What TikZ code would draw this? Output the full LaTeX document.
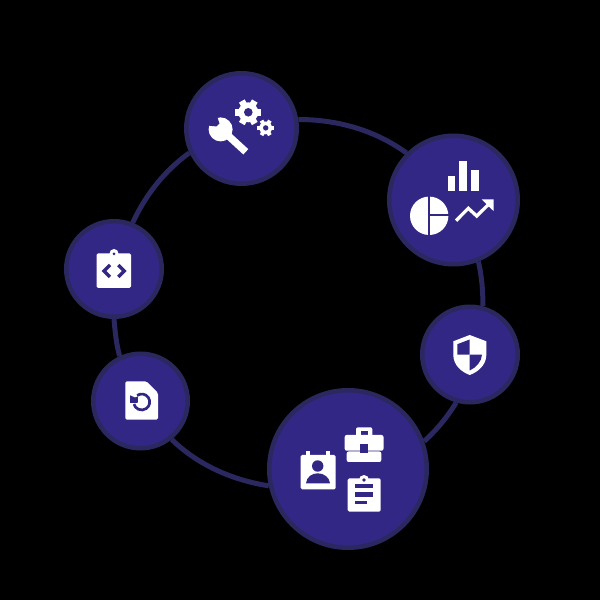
\documentclass[tikz,border=0pt]{standalone}
\usetikzlibrary{backgrounds}
\definecolor{discfill}{HTML}{322785}
\definecolor{ringcol}{HTML}{2B2860}
\tikzset{
  x=1pt,y=1pt,
  disc/.style={circle,draw=ringcol,fill=discfill,line width=4.5pt,inner sep=0pt,minimum size=#1},
  arcline/.style={draw=ringcol,line width=5pt,looseness=0.88},
  cut/.style={fill=discfill,draw=none},
  icoline/.style={draw=white,line cap=butt,line join=miter},
  cutline/.style={draw=discfill,line cap=butt,line join=miter},
  pixels/.style={shift={(0,600)},yscale=-1}
}
\newcommand{\mygear}[6]{%
  \foreach \a in {30,90,...,330}{
    \fill[white,rotate around={\a:(#1,#2)}] (#1-#6/2,#2) rectangle (#1+#6/2,#2+#3);
  }
  \fill[white] (#1,#2) circle[radius=#4];
  \fill[discfill] (#1,#2) circle[radius=#5];
}
\begin{document}
\begin{tikzpicture}
\useasboundingbox (0,0) rectangle (600,600);
\node[disc=110.5pt] (wrench) at (241.5,471.5) {};
\node[disc=128.5pt] (chart) at (453.5,400) {};
\node[disc=95.5pt] (shield) at (470,245.5) {};
\node[disc=157.5pt] (people) at (348,131) {};
\node[disc=94.5pt] (doc) at (140.5,199) {};
\node[disc=95.5pt] (code) at (114,331) {};
\begin{pgfonlayer}{background}
\fill[black] (0,0) rectangle (600,600);
\draw[arcline] (wrench.9) to[out=0,in=144] (chart.135);
\draw[arcline] (chart.-68) to[out=-77,in=90] (shield.75);
\draw[arcline] (shield.-106) to[out=-122,in=42] (people.20);
\draw[arcline] (people.192) to[out=171,in=-44] (doc.-51);
\draw[arcline] (doc.115) to[out=105,in=-85] (code.-90);
\draw[arcline] (code.68) to[out=65,in=216] (wrench.205);
\end{pgfonlayer}
\begin{scope}[pixels]
% wrench
\draw[icoline,line width=7.3pt] (222,130) -- (245.8,151.8);
\fill[white] (220.6,129.4) circle[radius=12];
\fill[cut] (205,121.5) -- (209.3,125.7) -- (216.5,126.5) -- (219.5,123.5) -- (217.7,118.3) -- (214,112) -- cycle;
\mygear{248.3}{112.3}{13}{10}{4.3}{6.5}
\mygear{265.7}{127.9}{8.4}{6.4}{2.7}{4}
% chart
\fill[white] (447.7,176) rectangle (455.3,191.3);
\fill[white] (459,160.7) rectangle (467,191.3);
\fill[white] (470.7,170) rectangle (478.7,191.3);
\fill[white] (429.2,215.8) circle[radius=19.2];
\fill[cut] (428.2,195) rectangle (430.2,237);
\fill[cut] (430.2,214.4) rectangle (450,216.4);
\draw[icoline,line width=3.3pt] (456,220.7) -- (468.3,208.3) -- (476.7,216) -- (490.5,202.5);
\fill[white] (481.7,199.3) -- (493.5,199.3) -- (493.5,211) -- cycle;
% shield
\fill[white] (469.7,335) -- (486.3,341.3) -- (486.3,355) .. controls (486.3,365) and (478,372) .. (469.7,375)
  .. controls (461.4,372) and (453.3,365) .. (453.3,355) -- (453.3,341.3) -- cycle;
\fill[cut] (457.3,344.2) -- (469.7,339.5) -- (469.7,354.7) -- (457.3,354.7) -- cycle;
\fill[cut] (469.7,354.7) -- (482,354.7) .. controls (481.5,362) and (476,367.5) .. (469.7,370.5) -- cycle;
% briefcase
\fill[white,rounded corners=2pt] (356,427.3) rectangle (372.3,440);
\fill[cut] (361,431) rectangle (367.7,436);
\fill[white,rounded corners=2pt] (344.7,435) rectangle (383.5,450.7);
\fill[white,rounded corners=2pt] (346.7,451.5) rectangle (381.3,462);
\fill[cut] (360,444) rectangle (367.7,452.7);
% contact card
\fill[white,rounded corners=1.5pt] (300.7,455) rectangle (335.7,489.3);
\fill[white] (306,451) rectangle (310,456);
\fill[white] (325.7,451) rectangle (329.7,456);
\fill[cut] (317.7,466) circle[radius=5.7];
\fill[cut] (306,483.3) .. controls (306.5,477) and (312,473.3) .. (317.7,473.3)
  .. controls (323.5,473.3) and (329.5,477) .. (330,483.3) -- cycle;
% clipboard
\fill[white,rounded corners=1.5pt] (347.7,478.3) rectangle (380.7,511.7);
\fill[white] (364,480) circle[radius=5];
\fill[cut] (364,480) circle[radius=1.8];
\fill[cut] (355,484) rectangle (373.3,488.3);
\fill[cut] (355,492.3) rectangle (373.3,496.7);
\fill[cut] (355,500.7) rectangle (367.3,504.3);
% code clipboard
\fill[white,rounded corners=1.5pt] (96.7,253.3) rectangle (131,288);
\fill[white] (114,253.5) circle[radius=4.5];
\fill[cut] (114,254) circle[radius=1.5];
\draw[cutline,line width=3.3pt] (110,265) -- (104,271) -- (110,277);
\draw[cutline,line width=3.3pt] (118.3,265) -- (124.3,271) -- (118.3,277);
% document
\fill[white,rounded corners=1.5pt] (125.3,381.3) -- (146.3,381.3) -- (158,393) -- (158,419.7) -- (125.3,419.7) -- cycle;
\draw[cutline,line width=2.7pt] (141.7,402) ++(235:8) arc[start angle=235,end angle=525,radius=8];
\fill[cut] (130,395.3) -- (130,403) -- (137.7,403) -- (138,396.5) -- (135,397.5) -- cycle;
\end{scope}
\end{tikzpicture}
\end{document}
